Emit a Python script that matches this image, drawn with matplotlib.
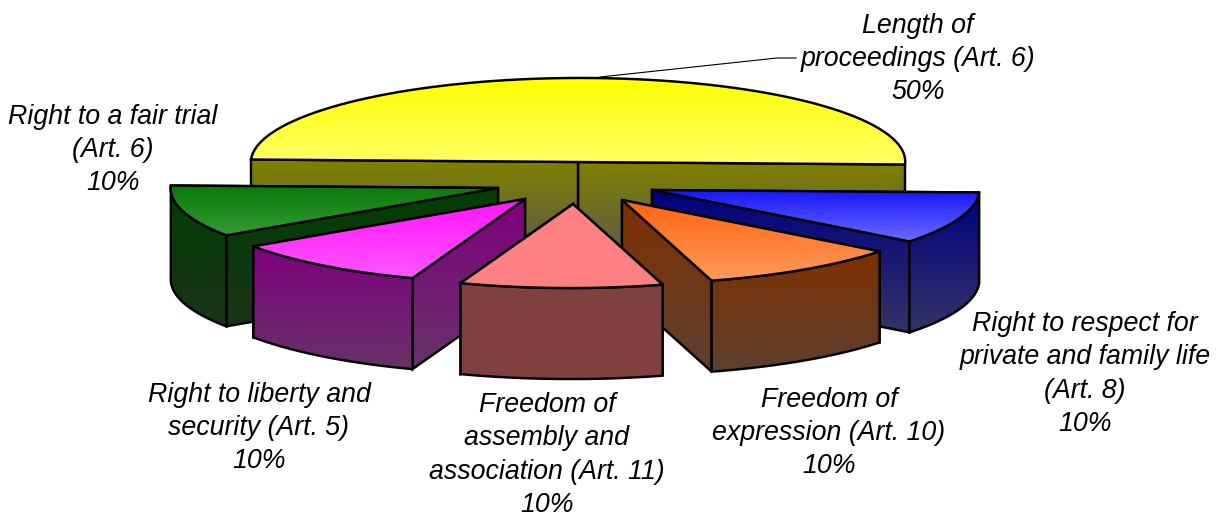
import numpy as np
import matplotlib; matplotlib.use("Agg")
import matplotlib.pyplot as plt
from matplotlib.colors import to_rgb
from matplotlib.patches import Polygon
plt.rcParams.update({"font.family":["Liberation Sans","DejaVu Sans"],"font.size":19.25,"font.style":"italic"})

# data, clockwise from 9 o'clock
CATEGORIES=["Length of\nproceedings (Art. 6)","Right to respect for\nprivate and family life\n(Art. 8)",
            "Freedom of\nexpression (Art. 10)","Freedom of\nassembly and\nassociation (Art. 11)",
            "Right to liberty and\nsecurity (Art. 5)","Right to a fair trial\n(Art. 6)"]
SHARES=[50,10,10,10,10,10]

# look of each slice: top face colours, wall colours, slice tip in pixels, label centre
TOP=[("#ffff00","#ffff66"),("#1414ff","#6a6aff"),("#ff6410","#ff9a5c"),("#ff8080","#ff8080"),("#ff14ff","#ff55ff"),("#0a7a0a","#359a35")]
WALL=[("#808000","#5c5c4a"),("#000080","#333366"),("#803000","#5c4030"),("#804040","#804040"),("#800080","#663366"),("#003f00","#1a331a")]
TIPS=[(578,162),(652,190),(622,200),(573,204),(525,199),(498,188)]
LABEL_XY=[(918,59),(1085,374),(829,433),(547,455),(259,428),(113,150)]
DRAW_ORDER=[0,5,1,4,2,3]
AX_A=np.array([327,2.5]); AX_B=np.array([-12,84]); DEPTH=91

fig=plt.figure(figsize=(12.25,5.17),dpi=100)
ax=fig.add_axes([0,0,1,1]); ax.axis("off")

def rim(tip,t): return np.array(tip)+np.outer(np.cos(t),AX_A)+np.outer(np.sin(t),AX_B)

def face(pts,cols,z):
    # vertical gradient over the face's own height
    g=np.linspace(0,1,64)[:,None,None]
    img=(1-g)*np.array(to_rgb(cols[0]))+g*np.array(to_rgb(cols[1]))
    im=ax.imshow(img,extent=(pts[:,0].min()-2,pts[:,0].max()+2,pts[:,1].max(),pts[:,1].min()),aspect="auto",zorder=z)
    im.set_clip_path(Polygon(pts,closed=True,transform=ax.transData))
    ax.add_patch(Polygon(pts,closed=True,fill=False,ec="black",lw=1.75,joinstyle="miter",zorder=z+0.5))

ends=np.radians(180+np.cumsum([0]+SHARES)*3.6)
down=np.array([0,DEPTH])
z=2
for i in DRAW_ORDER:
    t0,t1=ends[i],ends[i+1]; tip=np.array(TIPS[i],float)
    arc=rim(tip,np.linspace(t0,t1,80))
    # side walls, the one nearer the viewer last
    for t in sorted([t0,t1],key=np.sin):
        c=rim(tip,np.array([t]))[0]
        face(np.array([tip,c,c+down,tip+down]),WALL[i],z); z+=1
    if np.sin((t0+t1)/2)>0:
        face(np.vstack([arc,(arc+down)[::-1]]),WALL[i],z); z+=1
    face(np.vstack([[tip],arc]),TOP[i],z); z+=1

ax.plot([600,777,796],[77,58,58],color="black",lw=0.8,zorder=z,solid_joinstyle="round")
for cat,share,(x,y) in zip(CATEGORIES,SHARES,LABEL_XY):
    ax.text(x,y,f"{cat}\n{share}%",ha="center",va="center",linespacing=1.36,color="black",zorder=z+1)

ax.set_xlim(0,1225); ax.set_ylim(517,0)
fig.savefig("out.png",dpi=100); plt.close(fig)
print("saved out.png")
